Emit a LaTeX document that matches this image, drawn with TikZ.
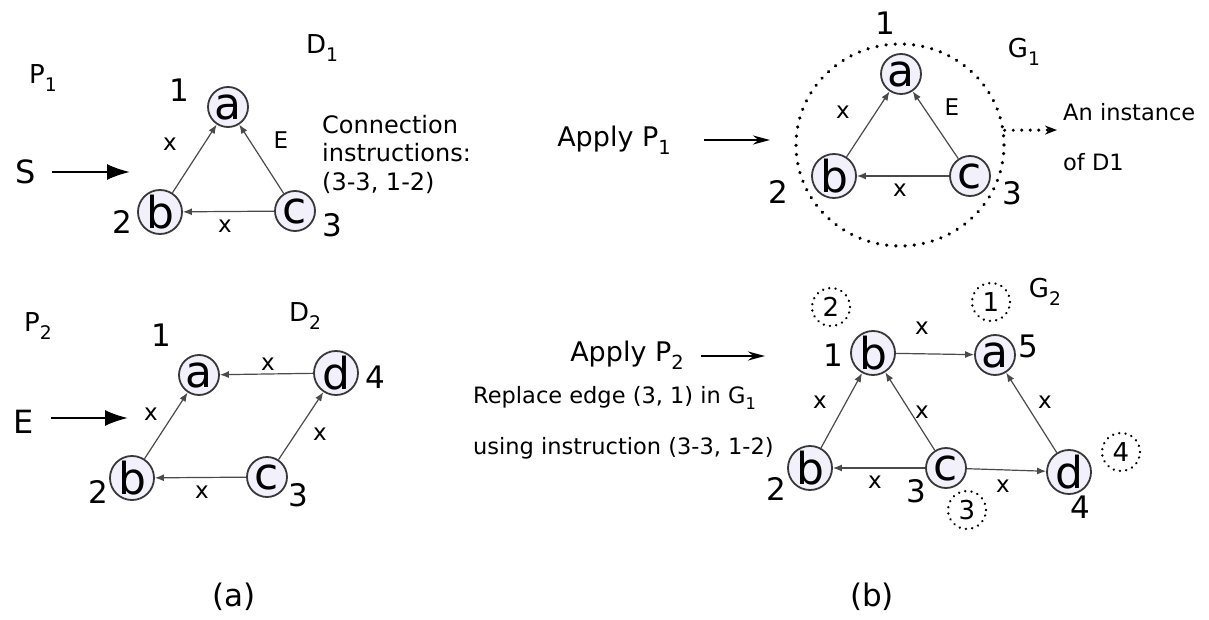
\documentclass[tikz,border=0pt]{standalone}
\usepackage{fontspec}
\setmainfont{DejaVu Sans}
\usepackage{graphicx}
\usetikzlibrary{arrows.meta,shapes.geometric}
\definecolor{lav}{HTML}{F2F0FB}
\definecolor{edgegray}{HTML}{4A4A4A}
\newcommand\sbs[1]{\raisebox{-0.3em}{\scalebox{0.72}{#1}}}
\tikzset{
  gnode/.style={circle, draw=black!78, line width=1.8pt, fill=lav, minimum size=40pt, inner sep=0pt, font=\fontsize{44}{44}\selectfont},
  gedge/.style={draw=edgegray, line width=1.2pt, -{Latex[length=9pt,width=7pt]}},
  num/.style={inner sep=0pt, font=\fontsize{31}{31}\selectfont},
  elab/.style={inner sep=0pt, font=\fontsize{23}{23}\selectfont},
  ttl/.style={inner sep=0pt, font=\fontsize{26}{26}\selectfont},
  bigtxt/.style={inner sep=0pt, font=\fontsize{32}{32}\selectfont},
  bigarrow/.style={line width=2.2pt, -{Latex[length=23pt,width=16pt]}},
  applytxt/.style={inner sep=0pt, font=\fontsize{27}{27}\selectfont},
  applyarrow/.style={line width=2pt, -{Stealth[length=17pt,width=9pt]}},
  txt/.style={inner sep=0pt, anchor=west, align=left, font=\fontsize{22.5}{28.5}\selectfont},
  dotc/.style={circle, draw, line width=2.6pt, dash pattern=on 0.01pt off 6.3pt, line cap=round, minimum size=38pt, inner sep=0pt, font=\fontsize{26}{26}\selectfont},
  bigdot/.style={ellipse, draw, line width=3.6pt, dash pattern=on 0.01pt off 9.2pt, line cap=round, minimum width=208pt, minimum height=202pt, inner sep=0pt},
  dotarrow/.style={line width=3.4pt, dash pattern=on 0.01pt off 8.5pt, line cap=round, -{Stealth[length=12pt,width=9pt,line cap=butt]}},
  captxt/.style={inner sep=0pt, font=\fontsize{31}{31}\selectfont}
}
\begin{document}
\begin{tikzpicture}[x=1pt,y=-1pt]
\useasboundingbox (0,0) rectangle (1209,620);

% ---------- (a) top: P1 / D1 ----------
\node[ttl] (P1) at (43,78) {P\sbs{1}};
\node[ttl] (D1) at (322,48) {D\sbs{1}};
\node[bigtxt] (S) at (26,172) {S};
\coordinate (Send) at (130,172);
\draw[bigarrow] (S.east) ++(16,0) -- (Send);

\node[gnode] (A1a) at (228,107) {a};
\node[gnode] (A1b) at (160,212) {b};
\node[gnode] (A1c) at (295,211) {c};
\draw[gedge] (A1b) -- (A1a);
\draw[gedge] (A1c) -- (A1a);
\draw[gedge] (A1c) -- (A1b);
\node[num] (A1n1) at (179,90) {1};
\node[num] (A1n2) at (122,222) {2};
\node[num] (A1n3) at (332,225) {3};
\node[elab] (A1x1) at (170,144) {x};
\node[elab] (A1E) at (281,140) {E};
\node[elab] (A1x2) at (225,226) {x};
\node[txt, font=\fontsize{24}{28.5}\selectfont] (conn) at (322,154) {Connection\\instructions:\\(3-3, 1-2)};

% ---------- (b) top: G1 ----------
\node[applytxt] (ap1) at (614,140) {Apply P\sbs{1}};
\coordinate (ap1e) at (770,140);
\draw[applyarrow] (ap1.east) ++(33,0) -- (ap1e);

\node[bigdot] (G1c) at (900,145) {};
\node[gnode] (B1a) at (901,74) {a};
\node[gnode] (B1b) at (834,176) {b};
\node[gnode] (B1c) at (970,176) {c};
\draw[gedge] (B1b) -- (B1a);
\draw[gedge] (B1c) -- (B1a);
\draw[gedge] (B1c) -- (B1b);
\node[num] (B1n1) at (885,23) {1};
\node[num] (B1n2) at (778,192) {2};
\node[num] (B1n3) at (1012,193) {3};
\node[elab] (B1x1) at (843,112) {x};
\node[elab] (B1E) at (952,107) {E};
\node[elab] (B1x2) at (900,190) {x};
\node[ttl] (G1) at (1024,52) {G\sbs{1}};
\coordinate (dend) at (1057,130);
\draw[dotarrow] (G1c.8) -- (dend);
\node[txt] (inst1) at (1063,112) {An instance};
\node[txt] (inst2) at (1063,162) {of D1};

% ---------- (a) bottom: P2 / D2 ----------
\node[ttl] (P2) at (38,326) {P\sbs{2}};
\node[ttl] (D2) at (305,316) {D\sbs{2}};
\node[bigtxt] (E) at (24,422) {E};
\coordinate (Eend) at (128,418);
\draw[bigarrow] (E.east) ++(17,-4) -- (Eend);

\node[gnode] (A2a) at (199,375) {a};
\node[gnode] (A2d) at (336,373) {d};
\node[gnode] (A2b) at (132,478) {b};
\node[gnode] (A2c) at (267,477) {c};
\draw[gedge] (A2b) -- (A2a);
\draw[gedge] (A2d) -- (A2a);
\draw[gedge] (A2c) -- (A2b);
\draw[gedge] (A2c) -- (A2d);
\node[num] (A2n1) at (161,335) {1};
\node[num] (A2n4) at (375,377) {4};
\node[num] (A2n2) at (98,492) {2};
\node[num] (A2n3) at (298,495) {3};
\node[elab] (A2x1) at (268,364) {x};
\node[elab] (A2x2) at (151,414) {x};
\node[elab] (A2x3) at (320,434) {x};
\node[elab] (A2x4) at (202,492) {x};

% ---------- (b) bottom: G2 ----------
\node[applytxt] (ap2) at (627,355) {Apply P\sbs{2}};
\coordinate (ap2e) at (765,356);
\draw[applyarrow] (ap2.east) ++(17,1) -- (ap2e);
\node[txt] (rep1) at (473,398) {Replace edge (3, 1) in G\sbs{1}};
\node[txt] (rep2) at (473,448) {using instruction (3-3, 1-2)};

\node[gnode] (B2b) at (873,353) {b};
\node[gnode] (B2a) at (995,355) {a};
\node[gnode] (B2b2) at (810,468) {b};
\node[gnode] (B2c) at (946,468) {c};
\node[gnode] (B2d) at (1069,472) {d};
\draw[gedge] (B2b2) -- (B2b);
\draw[gedge] (B2c) -- (B2b);
\draw[gedge] (B2b) -- (B2a);
\draw[gedge] (B2d) -- (B2a);
\draw[gedge] (B2c) -- (B2b2);
\draw[gedge] (B2c) -- (B2d);
\node[num] (B2n1) at (833,355) {1};
\node[num] (B2n5) at (1028,346) {5};
\node[num] (B2n2) at (776,489) {2};
\node[num] (B2n3) at (916,491) {3};
\node[num] (B2n4) at (1080,507) {4};
\node[dotc] (B2o2) at (831,307) {2};
\node[dotc] (B2o1) at (991,302) {1};
\node[dotc] (B2o4) at (1121,452) {4};
\node[dotc] (B2o3) at (967,510) {3};
\node[ttl] (G2) at (1045,292) {G\sbs{2}};
\node[elab] (B2x1) at (922,328) {x};
\node[elab] (B2x2) at (922,412) {x};
\node[elab] (B2x3) at (1045,402) {x};
\node[elab] (B2x4) at (875,482) {x};
\node[elab] (B2x5) at (1003,486) {x};
\node[elab] (B2x6) at (820,402) {x};

% ---------- captions ----------
\node[captxt] (capa) at (234,597) {(a)};
\node[captxt] (capb) at (872,597) {(b)};
\end{tikzpicture}
\end{document}
